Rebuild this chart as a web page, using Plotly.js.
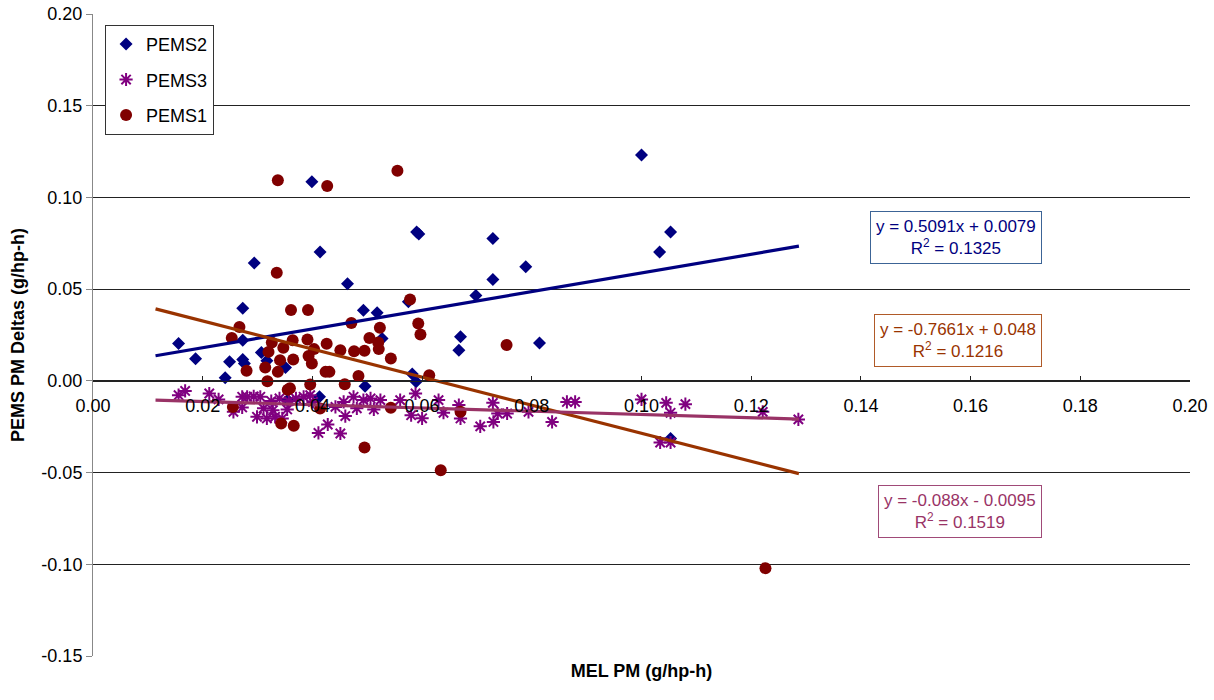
<!DOCTYPE html>
<html>
<head>
<meta charset="utf-8">
<script src="https://cdn.plot.ly/plotly-3.0.1.min.js"></script>
<style>html,body{margin:0;padding:0;background:#fff;}#chart{width:1214px;height:700px;}</style>
</head>
<body>
<div id="chart"></div>
<script>
// ---- Data ----
const pems2X = [0.0399,0.0590,0.0594,0.0294,0.0414,0.0464,0.0273,0.0575,0.0493,0.0518,
                0.0156,0.0273,0.0527,0.0187,0.0249,0.0273,0.0276,0.0307,0.0317,0.0351,
                0.0241,0.0496,0.0582,0.0589,0.0413,0.0355,0.0729,0.0789,0.0729,0.0698,
                0.0670,0.0667,0.0814,0.1000,0.1053,0.1033,0.1053];
const pems2Y = [0.1085,0.0812,0.0800,0.0643,0.0703,0.0529,0.0396,0.0431,0.0385,0.0371,
                0.0204,0.0222,0.0231,0.0120,0.0104,0.0117,0.0095,0.0155,0.0109,0.0073,
                0.0017,-0.0029,0.0037,-0.0005,-0.0087,-0.0105,0.0776,0.0622,0.0553,0.0466,
                0.0240,0.0167,0.0207,0.1231,0.0811,0.0702,-0.0314];

const pems3X = [0.0156,0.0168,0.0212,0.0229,0.0256,0.0272,0.0281,0.0293,0.0305,0.0272,
                0.0299,0.0317,0.0332,0.0345,0.0311,0.0328,0.0354,0.0325,0.0340,0.0357,
                0.0370,0.0384,0.0396,0.0401,0.0411,0.0428,0.0451,0.0442,0.0457,0.0460,
                0.0475,0.0481,0.0493,0.0506,0.0512,0.0524,0.0560,0.0588,0.0580,0.0600,
                0.0630,0.0639,0.0667,0.0670,0.0706,0.0729,0.0730,0.0738,0.0755,0.0794,
                0.0837,0.0864,0.0879,0.1000,0.1045,0.1053,0.1080,0.1221,0.1286,0.1034,0.1053];
const pems3Y = [-0.0078,-0.0055,-0.0069,-0.0101,-0.0169,-0.0087,-0.0087,-0.0085,-0.0087,-0.0145,
                -0.0196,-0.0205,-0.0196,-0.0205,-0.0150,-0.0160,-0.0156,-0.0110,-0.0096,-0.0110,
                -0.0096,-0.0087,-0.0078,-0.0115,-0.0284,-0.0238,-0.0287,-0.0142,-0.0115,-0.0192,
                -0.0087,-0.0150,-0.0105,-0.0096,-0.0156,-0.0105,-0.0105,-0.0069,-0.0187,-0.0204,
                -0.0105,-0.0174,-0.0132,-0.0205,-0.0248,-0.0120,-0.0224,-0.0178,-0.0178,-0.0169,
                -0.0224,-0.0115,-0.0115,-0.0101,-0.0120,-0.0174,-0.0127,-0.0169,-0.0210,-0.0336,-0.0336];

const pems1X = [0.0337,0.0427,0.0555,0.0335,0.0578,0.0361,0.0392,0.0471,0.0593,0.0597,
                0.0267,0.0253,0.0523,0.0504,0.0520,0.0521,0.0326,0.0347,0.0364,0.0391,
                0.0403,0.0426,0.0451,0.0476,0.0495,0.0543,0.0320,0.0341,0.0365,0.0393,
                0.0399,0.0280,0.0314,0.0337,0.0424,0.0431,0.0484,0.0613,0.0318,0.0396,
                0.0459,0.0355,0.0359,0.0255,0.0343,0.0366,0.0414,0.0495,0.0543,0.0634,
                0.0754,0.0670,0.1226];
const pems1Y = [0.1094,0.1062,0.1145,0.0589,0.0444,0.0386,0.0386,0.0316,0.0313,0.0253,
                0.0294,0.0234,0.0289,0.0234,0.0209,0.0173,0.0209,0.0180,0.0222,0.0226,
                0.0173,0.0202,0.0167,0.0162,0.0164,0.0122,0.0158,0.0113,0.0117,0.0135,
                0.0095,0.0055,0.0073,0.0049,0.0049,0.0049,0.0026,0.0031,-0.0002,-0.0020,
                -0.0018,-0.0048,-0.0040,-0.0142,-0.0232,-0.0245,-0.0151,-0.0363,-0.0147,-0.0487,
                0.0195,-0.0169,-0.1021];

// Linear trendlines as printed on the chart
const trendRangeX = [0.0114, 0.1287];
const trend2 = {slope: 0.5091, intercept: 0.0079, label: "y = 0.5091x + 0.0079<br>R<sup>2</sup> = 0.1325"};
const trend1 = {slope: -0.7661, intercept: 0.048, label: "y = -0.7661x + 0.048<br>R<sup>2</sup> = 0.1216"};
const trend3 = {slope: -0.088, intercept: -0.0095, label: "y = -0.088x - 0.0095<br>R<sup>2</sup> = 0.1519"};

const xTickVals = [0,0.02,0.04,0.06,0.08,0.10,0.12,0.14,0.16,0.18,0.20];
const xTickText = ['0.00','0.02','0.04','0.06','0.08','0.10','0.12','0.14','0.16','0.18','0.20'];
const yTickVals = [-0.15,-0.10,-0.05,0.00,0.05,0.10,0.15,0.20];
const yTickText = ['-0.15','-0.10','-0.05','0.00','0.05','0.10','0.15','0.20'];

// ---- Styling ----
const cNavy = '#000080', cPurple = '#800080', cRed = '#800000';
const cOrange = '#993300', cPlum = '#993366';
const FONT = 'Liberation Sans, Arial, sans-serif';

function line(t, color) {
  return {
    x: trendRangeX,
    y: trendRangeX.map(v => t.slope * v + t.intercept),
    mode: 'lines', type: 'scatter', showlegend: false, hoverinfo: 'skip',
    line: {color: color, width: 3.2}
  };
}

const traces = [
  {x: pems2X, y: pems2Y, name: 'PEMS2', legendgroup: 'a', mode: 'markers', type: 'scatter',
   marker: {symbol: 'diamond', size: 10, color: cNavy}},
  {x: pems3X, y: pems3Y, name: 'PEMS3', legendgroup: 'b', mode: 'markers', type: 'scatter',
   marker: {symbol: 'asterisk-open', size: 11, color: cPurple, line: {color: cPurple, width: 2}}},
  {x: pems1X, y: pems1Y, name: 'PEMS1', legendgroup: 'c', mode: 'markers', type: 'scatter',
   marker: {symbol: 'circle', size: 12, color: cRed}},
  line(trend2, cNavy),
  line(trend1, cOrange),
  line(trend3, cPlum)
];

function eqBox(x, y, t, color, border) {
  return {xref: 'paper', yref: 'paper', x: x, y: y, xanchor: 'center', yanchor: 'middle',
          text: t.label, showarrow: false, align: 'center',
          font: {family: FONT, size: 17, color: color},
          bgcolor: '#fff', bordercolor: border, borderwidth: 1, borderpad: 5};
}

const layout = {
  width: 1214, height: 700,
  margin: {l: 93, r: 24, t: 14, b: 44},
  paper_bgcolor: '#fff', plot_bgcolor: '#fff',
  font: {family: FONT, size: 18, color: '#000'},
  showlegend: true,
  legend: {x: 0.011, y: 0.983, xanchor: 'left', yanchor: 'top',
           bgcolor: '#fff', bordercolor: '#333', borderwidth: 1,
           font: {family: FONT, size: 18, color: '#000'},
           traceorder: 'grouped', tracegroupgap: 9},
  xaxis: {
    range: [0, 0.2], tickvals: xTickVals, ticktext: xTickText,
    anchor: 'free', position: 0.15 / 0.35, side: 'bottom',
    showline: true, linecolor: '#222', linewidth: 1,
    ticks: 'inside', ticklen: 5, tickcolor: '#222',
    ticklabelstandoff: 9,
    showgrid: false, zeroline: false,
    tickfont: {family: FONT, size: 18},
    title: {text: 'MEL PM (g/hp-h)', font: {family: FONT, size: 18, weight: 'bold'}, standoff: 248}
  },
  yaxis: {
    range: [-0.15, 0.2], tickvals: yTickVals, ticktext: yTickText,
    showline: true, linecolor: '#888', linewidth: 1,
    ticks: 'outside', ticklen: 6, tickcolor: '#888',
    showgrid: true, gridcolor: '#222', gridwidth: 1,
    zeroline: false,
    tickfont: {family: FONT, size: 18},
    title: {text: 'PEMS PM Deltas (g/hp-h)', font: {family: FONT, size: 18, weight: 'bold'}, standoff: 12}
  },
  annotations: [
    eqBox(0.787, 0.6526, trend2, cNavy, '#3c6496'),
    eqBox(0.7885, 0.4907, trend1, cOrange, '#b05a28'),
    eqBox(0.790, 0.2243, trend3, cPlum, '#a04a78')
  ]
};

Plotly.newPlot('chart', traces, layout, {displayModeBar: false, staticPlot: true});
</script>
</body>
</html>
